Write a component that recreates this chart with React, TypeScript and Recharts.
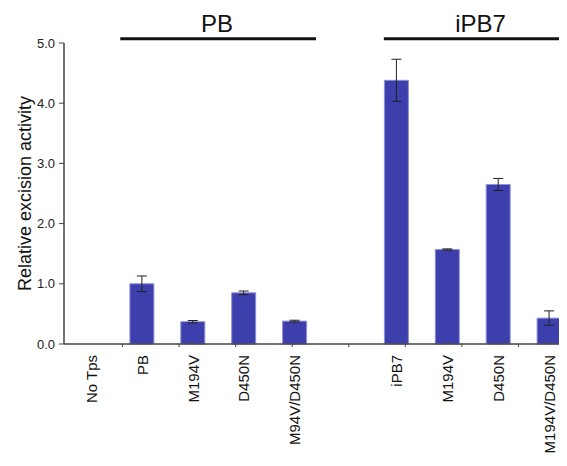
import { BarChart, Bar, XAxis, YAxis, ErrorBar, ReferenceLine, ReferenceDot } from 'recharts';

const categories = ['No Tps', 'PB', 'M194V', 'D450N', 'M94V/D450N', '', 'iPB7', 'M194V', 'D450N', 'M194V/D450N'];
const activity = [0, 1.0, 0.37, 0.85, 0.38, null, 4.38, 1.57, 2.65, 0.43];
const errors = [null, 0.13, 0.02, 0.03, 0.015, null, 0.35, 0.01, 0.1, 0.12];
const yTicks = [0, 1, 2, 3, 4, 5];
const slotTicks = [1, 2, 3, 4, 5, 6, 7, 8, 9];

// group headers: line span in slot units, label centre
const groups = [
  { name: 'PB', from: 0.96, to: 4.42, labelAt: 2.67 },
  { name: 'iPB7', from: 5.62, to: 10, labelAt: 7.33 },
];

const data = categories.map((label, i) => ({ label, value: activity[i], err: errors[i] }));

const font = '"Liberation Sans", Arial, sans-serif';

function RotatedTick({ x, y, payload }: any) {
  return (
    <text
      x={x}
      y={y}
      transform={`rotate(-90 ${x} ${y})`}
      textAnchor="end"
      dy="0.35em"
      fontSize={15}
      fontFamily={font}
      fill="#111"
    >
      {payload.value}
    </text>
  );
}

export default function App() {
  return (
    <div style={{ width: 559, height: 450, overflow: 'hidden' }}>
      <BarChart width={567} height={450} data={data} margin={{ top: 35, right: 0, bottom: 0, left: 0 }}>
        <XAxis
          xAxisId="b"
          dataKey="label"
          padding={{ left: 2, right: 0 }}
          height={108}
          interval={0}
          axisLine={false}
          tickLine={false}
          tickSize={0}
          tickMargin={5}
          tick={<RotatedTick />}
        />
        <XAxis
          xAxisId="a"
          type="number"
          domain={[0, 10]}
          ticks={slotTicks}
          padding={{ left: 2, right: 0 }}
          height={6}
          tickSize={3}
          tick={() => <g />}
          axisLine={{ stroke: '#444', strokeWidth: 1.5 }}
          tickLine={{ stroke: '#444' }}
        />
        <YAxis
          width={56}
          domain={[0, 5]}
          ticks={yTicks}
          tickFormatter={(v: number) => v.toFixed(1)}
          tick={{ fontSize: 13, fill: '#222', fontFamily: font }}
          tickSize={5}
          tickMargin={4}
          axisLine={{ stroke: '#444', strokeWidth: 1.5 }}
          tickLine={{ stroke: '#444' }}
          label={{
            value: 'Relative excision activity',
            angle: -90,
            position: 'center',
            dx: -11,
            fontSize: 18,
            fontFamily: font,
            fill: '#111',
          }}
        />
        <Bar
          xAxisId="b"
          dataKey="value"
          fill="#3c3fac"
          stroke="#8f91d8"
          strokeWidth={1}
          barSize={24}
          isAnimationActive={false}
        >
          <ErrorBar dataKey="err" width={5} stroke="#222" strokeWidth={1} />
        </Bar>
        {groups.map((g) => (
          <ReferenceLine
            key={g.name}
            xAxisId="a"
            segment={[
              { x: g.from, y: 5.07 },
              { x: g.to, y: 5.07 },
            ]}
            stroke="#111"
            strokeWidth={3}
            ifOverflow="visible"
          />
        ))}
        {groups.map((g) => (
          <ReferenceDot
            key={g.name + '-label'}
            xAxisId="a"
            x={g.labelAt}
            y={5.32}
            r={0}
            ifOverflow="visible"
            label={{ value: g.name, position: 'center', fontSize: 24, fontFamily: font, fill: '#111' }}
          />
        ))}
      </BarChart>
    </div>
  );
}
